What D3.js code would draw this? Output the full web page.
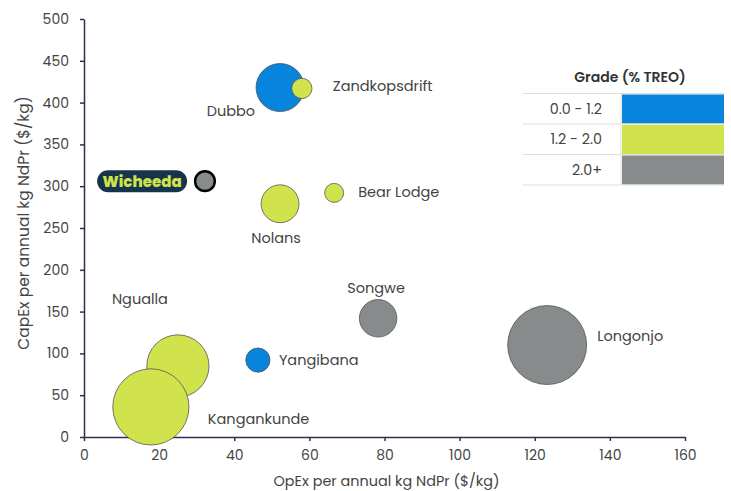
<!DOCTYPE html>
<html>
<head>
<meta charset="utf-8">
<script src="https://cdn.jsdelivr.net/npm/d3@7"></script>
<style>
  body { margin: 0; background: #fff; }
  svg { font-family: Poppins, "Open Sans", sans-serif; }
</style>
</head>
<body>
<div id="chart"></div>
<script>
// Project data
const projects = ["Dubbo", "Zandkopsdrift", "Bear Lodge", "Nolans", "Wicheeda", "Songwe", "Longonjo", "Yangibana", "Ngualla", "Kangankunde"];
const opex = [52.2, 58.0, 66.6, 52.2, 32.2, 78.3, 123.3, 46.3, 25.0, 17.8];
const capex = [418, 417, 292, 279, 306, 142, 110, 92, 85, 36];
const bubbleSize = [37, 6.6, 5.8, 23, 6.2, 22.5, 100, 9.4, 62, 93];
const grade = ["0.0 - 1.2", "1.2 - 2.0", "1.2 - 2.0", "1.2 - 2.0", "2.0+", "2.0+", "2.0+", "0.0 - 1.2", "1.2 - 2.0", "1.2 - 2.0"];

const gradeBands = ["0.0 - 1.2", "1.2 - 2.0", "2.0+"];
const gradeColors = ["#0784dc", "#d0e24c", "#878b8b"];

const xTicks = [0, 20, 40, 60, 80, 100, 120, 140, 160];
const yTicks = [0, 50, 100, 150, 200, 250, 300, 350, 400, 450, 500];

// label placement relative to the bubble centre (anchor, dx, dy)
const labelPlace = {
  "Dubbo": ["end", -25, 23],
  "Zandkopsdrift": ["start", 31, -2],
  "Bear Lodge": ["start", 24, -1],
  "Nolans": ["middle", -4, 34],
  "Wicheeda": ["pill", 0, 0],
  "Songwe": ["middle", -2, -30],
  "Longonjo": ["start", 50, -9],
  "Yangibana": ["start", 21, 0],
  "Ngualla": ["start", -66, -67],
  "Kangankunde": ["start", 57, 12]
};

const width = 731, height = 491;
const margin = { top: 19, right: 46, bottom: 54, left: 84 };

const svg = d3.select("#chart").append("svg")
  .attr("width", width)
  .attr("height", height);

const x = d3.scaleLinear().domain([0, 160]).range([margin.left, width - margin.right]);
const y = d3.scaleLinear().domain([0, 500]).range([height - margin.bottom, margin.top]);
const r = d3.scaleSqrt().domain([0, 100]).range([0, 39.5]);
const color = d3.scaleOrdinal().domain(gradeBands).range(gradeColors);

const axisColor = "#2a3347";
const textColor = "#444";
const fontFamily = 'Poppins, "Open Sans", sans-serif';

// Axes
const xAxis = svg.append("g")
  .attr("transform", `translate(0,${y(0)})`)
  .call(d3.axisBottom(x).tickValues(xTicks).tickSize(4).tickPadding(9).tickSizeOuter(0));
const yAxis = svg.append("g")
  .attr("transform", `translate(${x(0)},0)`)
  .call(d3.axisLeft(y).tickValues(yTicks).tickSize(4).tickPadding(11).tickSizeOuter(0));

for (const g of [xAxis, yAxis]) {
  g.select(".domain").attr("stroke", axisColor).attr("stroke-width", 1.5);
  g.selectAll(".tick line").attr("stroke", axisColor).attr("stroke-width", 1.5);
  g.selectAll(".tick text").attr("fill", textColor).attr("font-size", 14)
    .attr("font-family", fontFamily);
}

// Axis titles
svg.append("text")
  .attr("x", (x(0) + x(160)) / 2 + 2)
  .attr("y", 486)
  .attr("text-anchor", "middle")
  .attr("fill", textColor)
  .attr("font-size", 14.4)
  .text("OpEx per annual kg NdPr ($/kg)");

svg.append("text")
  .attr("transform", `translate(29,223) rotate(-90)`)
  .attr("text-anchor", "middle")
  .attr("fill", textColor)
  .attr("font-size", 15.5)
  .text("CapEx per annual kg NdPr ($/kg)");

// Bubbles
const data = projects.map((name, i) => ({
  name, x: opex[i], y: capex[i], size: bubbleSize[i], grade: grade[i]
}));

// large ones first so small ones sit on top
const drawOrder = data.slice().sort((a, b) => b.size - a.size);
// Ngualla sits behind Kangankunde
drawOrder.sort((a, b) => (a.name === "Ngualla" ? -1 : b.name === "Ngualla" ? 1 : 0));

svg.append("g").selectAll("circle")
  .data(drawOrder)
  .join("circle")
  .attr("cx", d => x(d.x))
  .attr("cy", d => y(d.y))
  .attr("r", d => r(d.size))
  .attr("fill", d => color(d.grade))
  .attr("stroke", d => d.name === "Wicheeda" ? "#000" : "#555")
  .attr("stroke-width", d => d.name === "Wicheeda" ? 2.5 : 0.8);

// Labels
const labels = svg.append("g");
data.forEach(d => {
  const [anchor, dx, dy] = labelPlace[d.name];
  const cx = x(d.x), cy = y(d.y);
  if (anchor === "pill") {
    const g = labels.append("g");
    const pw = 90, ph = 22;
    const px = cx - r(d.size) - 8 - pw;
    g.append("rect")
      .attr("x", px).attr("y", cy - ph / 2)
      .attr("width", pw).attr("height", ph)
      .attr("rx", 11)
      .attr("fill", "#16344b");
    g.append("text")
      .attr("x", px + pw / 2).attr("y", cy + 5.5)
      .attr("text-anchor", "middle")
      .attr("fill", "#d0e24c")
      .attr("font-size", 15)
      .attr("font-weight", 800)
      .text(d.name);
    return;
  }
  labels.append("text")
    .attr("x", cx + dx)
    .attr("y", cy + dy + 5)
    .attr("text-anchor", anchor)
    .attr("fill", textColor)
    .attr("font-size", 14.5)
    .text(d.name);
});

// Legend table
const legend = svg.append("g");
const lx = 523, lw = 201, colX = 621, rowTop = 93.5, rowH = 30.5;

legend.append("text")
  .attr("x", 630).attr("y", 82)
  .attr("text-anchor", "middle")
  .attr("fill", "#333")
  .attr("font-size", 14)
  .attr("font-weight", 600)
  .text("Grade (% TREO)");

gradeBands.forEach((band, i) => {
  const top = rowTop + i * rowH;
  legend.append("rect")
    .attr("x", colX + 1).attr("y", top + 1)
    .attr("width", lx + lw - colX - 1).attr("height", rowH - 1.5)
    .attr("fill", gradeColors[i]);
  legend.append("text")
    .attr("x", 602).attr("y", top + rowH / 2 + 5)
    .attr("text-anchor", "end")
    .attr("fill", textColor)
    .attr("font-size", 14.3)
    .text(band);
});
for (let i = 0; i <= gradeBands.length; i++) {
  legend.append("line")
    .attr("x1", lx).attr("x2", lx + lw)
    .attr("y1", rowTop + i * rowH).attr("y2", rowTop + i * rowH)
    .attr("stroke", "#ddd");
}
legend.append("line")
  .attr("x1", colX).attr("x2", colX)
  .attr("y1", rowTop).attr("y2", rowTop + 3 * rowH)
  .attr("stroke", "#ddd");
</script>
</body>
</html>
